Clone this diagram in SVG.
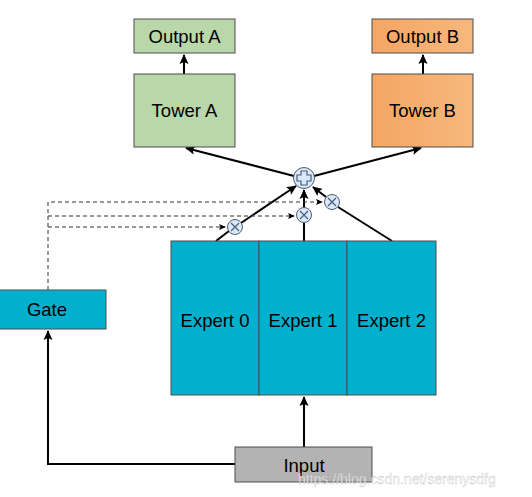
<svg xmlns="http://www.w3.org/2000/svg" width="532" height="497" viewBox="0 0 532 497">
<style>
.box{stroke:#4d4d4d;stroke-width:1}
.t{font-family:"Liberation Sans",Arial,sans-serif;font-size:18.5px;fill:#000;text-anchor:middle}
.c{stroke:#000;stroke-width:2;fill:none}
.d{stroke:#333;stroke-width:1;fill:none;stroke-dasharray:4 3}
.op{fill:#dae8fc;stroke:#4d5d73;stroke-width:1}
.sym{fill:none;stroke:#4d5d73;stroke-width:1.2}
</style>
<defs>
<marker id="ah" markerWidth="12" markerHeight="12" refX="9" refY="5.5" orient="auto" markerUnits="userSpaceOnUse">
<path d="M0,1 L10,5.5 L0,10 L2,5.5 Z" fill="#000"/>
</marker>
<marker id="ahs" markerWidth="8" markerHeight="8" refX="6" refY="4" orient="auto" markerUnits="userSpaceOnUse">
<path d="M0,1 L7,4 L0,7 L1.5,4 Z" fill="#000"/>
</marker>
<linearGradient id="og" x1="0" y1="0" x2="1" y2="0">
<stop offset="0" stop-color="#f4a664"/>
<stop offset="1" stop-color="#f7b77c"/>
</linearGradient>
</defs>
<g id="connectors">
<line class="c" x1="184" y1="74" x2="184" y2="55" marker-end="url(#ah)"/>
<line class="c" x1="423" y1="74" x2="423" y2="55" marker-end="url(#ah)"/>
<line class="c" x1="294" y1="176" x2="186" y2="148" marker-end="url(#ah)"/>
<line class="c" x1="314" y1="176" x2="421" y2="148" marker-end="url(#ah)"/>
<line class="c" x1="216" y1="241" x2="229" y2="231"/>
<line class="c" x1="241" y1="223" x2="296" y2="186" marker-end="url(#ah)"/>
<line class="c" x1="304" y1="241" x2="304" y2="223"/>
<line class="c" x1="304" y1="207" x2="304" y2="190" marker-end="url(#ah)"/>
<line class="c" x1="392" y1="241" x2="338" y2="207"/>
<line class="c" x1="326" y1="197" x2="313" y2="187" marker-end="url(#ah)"/>
<polyline class="d" points="48,290 48,202 322,202" marker-end="url(#ahs)"/>
<polyline class="d" points="48,216 294,216" marker-end="url(#ahs)"/>
<polyline class="d" points="48,227 225,227" marker-end="url(#ahs)"/>
<polyline class="c" points="235,464 48,464 48,331" marker-end="url(#ah)"/>
<line class="c" x1="304" y1="447" x2="304" y2="397" marker-end="url(#ah)"/>
</g>
<g id="outputA"><rect class="box" x="134" y="19" width="101" height="34" fill="#b9d7a8"/><text class="t" x="184.5" y="42.5">Output A</text></g>
<g id="towerA"><rect class="box" x="134" y="74" width="101" height="73" fill="#b9d7a8"/><text class="t" x="184.5" y="117">Tower A</text></g>
<g id="outputB"><rect class="box" x="372" y="19" width="101" height="34" fill="url(#og)"/><text class="t" x="422.5" y="42.5">Output B</text></g>
<g id="towerB"><rect class="box" x="372" y="74" width="101" height="73" fill="url(#og)"/><text class="t" x="422.5" y="117">Tower B</text></g>
<g id="sum"><circle class="op" cx="304" cy="178" r="10.5"/><path class="sym" d="M301,171 h6 v4 h4 v6 h-4 v4 h-6 v-4 h-4 v-6 h4 Z"/></g>
<g id="mul0"><circle class="op" cx="235" cy="227" r="7.5"/><path class="sym" d="M231,223 L239,231 M239,223 L231,231"/></g>
<g id="mul1"><circle class="op" cx="304" cy="215" r="7.5"/><path class="sym" d="M300,211 L308,219 M308,211 L300,219"/></g>
<g id="mul2"><circle class="op" cx="332" cy="202" r="7.5"/><path class="sym" d="M328,198 L336,206 M336,198 L328,206"/></g>
<g id="expert0"><rect class="box" x="171" y="241" width="88" height="154" fill="#00b0cc" stroke="#1a3a66"/><text class="t" x="215" y="327">Expert 0</text></g>
<g id="expert1"><rect class="box" x="259" y="241" width="88" height="154" fill="#00b0cc" stroke="#1a3a66"/><text class="t" x="303" y="327">Expert 1</text></g>
<g id="expert2"><rect class="box" x="347" y="241" width="89" height="154" fill="#00b0cc" stroke="#1a3a66"/><text class="t" x="391.5" y="327">Expert 2</text></g>
<g id="gate"><rect class="box" x="-1" y="290" width="107" height="39" fill="#00b0cc"/><text class="t" x="47" y="316">Gate</text></g>
<g id="input"><rect class="box" x="235" y="447" width="137" height="35" fill="#b3b3b3"/><text class="t" x="304" y="472">Input</text></g>
<text x="298" y="484" style="font-family:'Liberation Sans',Arial,sans-serif;font-size:14px;fill:#ffffff;fill-opacity:0.75;stroke:#999;stroke-width:0.4;stroke-opacity:0.6">https://blog.csdn.net/serenysdfg</text>
</svg>
